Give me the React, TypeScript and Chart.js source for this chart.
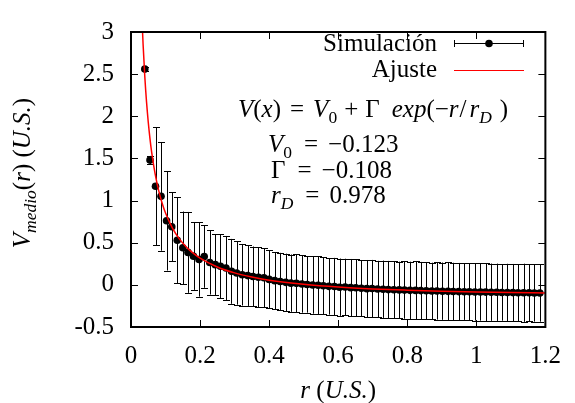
import React, { useEffect, useRef } from "react";
import { Chart, registerables } from "chart.js";
Chart.register(...registerables);

// ---- data ----
const rVals = [
  0.040, 0.055, 0.071, 0.087, 0.103, 0.118, 0.134, 0.150, 0.165, 0.181,
  0.197, 0.212, 0.228, 0.244, 0.259, 0.275, 0.291, 0.306, 0.322, 0.338,
  0.353, 0.369, 0.385, 0.400, 0.416, 0.432, 0.448, 0.463, 0.479, 0.495,
  0.510, 0.526, 0.542, 0.557, 0.573, 0.589, 0.604, 0.620, 0.636, 0.651,
  0.667, 0.683, 0.698, 0.714, 0.730, 0.745, 0.761, 0.777, 0.792, 0.808,
  0.824, 0.839, 0.855, 0.871, 0.886, 0.902, 0.918, 0.933, 0.949, 0.965,
  0.980, 0.996, 1.012, 1.027, 1.043, 1.059, 1.074, 1.090, 1.106, 1.121,
  1.137, 1.153, 1.168, 1.184,
];
const vVals = [
  2.56, 1.48, 1.17, 1.05, 0.76, 0.69, 0.53, 0.44, 0.385, 0.34,
  0.30, 0.335, 0.265, 0.24, 0.22, 0.20, 0.16, 0.14, 0.12, 0.11,
  0.10, 0.09, 0.085, 0.065, 0.05, 0.04, 0.03, 0.02, 0.018, 0.01,
  0.005, -0.002, -0.005, -0.01, -0.018, -0.02, -0.028, -0.025, -0.033, -0.035,
  -0.04, -0.045, -0.044, -0.05, -0.052, -0.056, -0.058, -0.06, -0.062, -0.065,
  -0.066, -0.068, -0.07, -0.072, -0.072, -0.075, -0.077, -0.078, -0.08, -0.081,
  -0.082, -0.084, -0.085, -0.086, -0.087, -0.088, -0.09, -0.09, -0.092, -0.093,
  -0.094, -0.094, -0.096, -0.097,
];
const errVals = [
  0.02, 0.05, 0.70, 0.645, 0.59, 0.41, 0.51, 0.43, 0.48, 0.40,
  0.44, 0.37, 0.38, 0.36, 0.38, 0.38, 0.385, 0.375, 0.365, 0.36,
  0.355, 0.355, 0.35, 0.345, 0.34, 0.34, 0.34, 0.34, 0.345, 0.34,
  0.335, 0.34, 0.345, 0.34, 0.335, 0.34, 0.34, 0.335, 0.34, 0.34,
  0.335, 0.34, 0.34, 0.335, 0.34, 0.34, 0.34, 0.335, 0.34, 0.34,
  0.345, 0.34, 0.34, 0.335, 0.34, 0.34, 0.345, 0.34, 0.34, 0.335,
  0.34, 0.34, 0.34, 0.345, 0.34, 0.34, 0.335, 0.34, 0.34, 0.34,
  0.345, 0.34, 0.34, 0.34,
];
const fitR = [
  0.032, 0.035, 0.04, 0.045, 0.05, 0.055, 0.06, 0.07, 0.08, 0.09,
  0.10, 0.12, 0.14, 0.16, 0.18, 0.20, 0.25, 0.30, 0.35, 0.40,
  0.50, 0.60, 0.70, 0.80, 0.90, 1.00, 1.10, 1.20,
];
const fitV = [
  3.143, 2.854, 2.469, 2.169, 1.929, 1.733, 1.570, 1.313, 1.121, 0.972,
  0.852, 0.673, 0.546, 0.450, 0.376, 0.317, 0.212, 0.142, 0.093, 0.056,
  0.007, -0.026, -0.048, -0.063, -0.075, -0.084, -0.091, -0.097,
];
const xTickVals = [0, 0.2, 0.4, 0.6, 0.8, 1.0, 1.2];
const yTickVals = [-0.5, 0, 0.5, 1, 1.5, 2, 2.5, 3];
const legendLabels = ["Simulación", "Ajuste"];
const paramV0 = "−0.123";
const paramGamma = "−0.108";
const paramRD = "0.978";

const FAMILY = "Liberation Serif";
const FONT = `"${FAMILY}", serif`;
const TFS = 25;

type Part = { t: string; it?: boolean; sub?: boolean; dx?: number };

function richWidth(ctx: CanvasRenderingContext2D, parts: Part[], size: number) {
  let w = 0;
  for (const p of parts) {
    const s = p.sub ? size * 0.7 : size;
    ctx.font = `${p.it ? "italic " : ""}${s}px ${FONT}`;
    w += ctx.measureText(p.t).width + (p.dx || 0);
  }
  return w;
}
function drawRich(ctx: CanvasRenderingContext2D, parts: Part[], x: number, y: number, size: number) {
  ctx.textAlign = "left";
  ctx.textBaseline = "alphabetic";
  let cx = x;
  for (const p of parts) {
    const s = p.sub ? size * 0.7 : size;
    ctx.font = `${p.it ? "italic " : ""}${s}px ${FONT}`;
    cx += p.dx || 0;
    ctx.fillText(p.t, cx, p.sub ? y + size * 0.22 : y);
    cx += ctx.measureText(p.t).width;
  }
}

const fmt = (v: number) => String(+Number(v).toFixed(2));

const overlay = {
  id: "overlay",
  beforeDatasetsDraw(chart: any) {
    const { ctx, chartArea: a, scales } = chart;
    const xs = scales.x, ys = scales.y;
    ctx.save();
    ctx.beginPath();
    ctx.rect(a.left, a.top, a.right - a.left, a.bottom - a.top);
    ctx.clip();
    ctx.strokeStyle = "#000";
    ctx.lineWidth = 1;
    for (let i = 0; i < rVals.length; i++) {
      const px = Math.round(xs.getPixelForValue(rVals[i])) + 0.5;
      const t = ys.getPixelForValue(vVals[i] + errVals[i]);
      const b = ys.getPixelForValue(vVals[i] - errVals[i]);
      ctx.beginPath();
      ctx.moveTo(px, t);
      ctx.lineTo(px, b);
      ctx.moveTo(px - 3.5, Math.round(t) + 0.5);
      ctx.lineTo(px + 3.5, Math.round(t) + 0.5);
      ctx.moveTo(px - 3.5, Math.round(b) + 0.5);
      ctx.lineTo(px + 3.5, Math.round(b) + 0.5);
      ctx.stroke();
    }
    ctx.restore();
  },
  afterDraw(chart: any) {
    const { ctx, chartArea: a, scales } = chart;
    const xs = scales.x, ys = scales.y;
    ctx.save();
    // inward ticks (mirrored)
    ctx.strokeStyle = "#000";
    ctx.lineWidth = 1;
    ctx.beginPath();
    for (const v of xTickVals) {
      const px = Math.round(xs.getPixelForValue(v)) + 0.5;
      ctx.moveTo(px, a.bottom);
      ctx.lineTo(px, a.bottom - 7);
      ctx.moveTo(px, a.top);
      ctx.lineTo(px, a.top + 7);
    }
    for (const v of yTickVals) {
      const py = Math.round(ys.getPixelForValue(v)) + 0.5;
      ctx.moveTo(a.left, py);
      ctx.lineTo(a.left + 7, py);
      ctx.moveTo(a.right, py);
      ctx.lineTo(a.right - 7, py);
    }
    ctx.stroke();
    // frame
    ctx.lineWidth = 2;
    ctx.strokeRect(a.left, a.top, a.right - a.left, a.bottom - a.top);

    // legend
    ctx.fillStyle = "#000";
    ctx.font = `${TFS}px ${FONT}`;
    ctx.textAlign = "right";
    ctx.textBaseline = "alphabetic";
    ctx.fillText(legendLabels[0], 437, 51);
    ctx.fillText(legendLabels[1], 437, 77);
    ctx.lineWidth = 1;
    ctx.strokeStyle = "#000";
    ctx.beginPath();
    ctx.moveTo(454, 43.5);
    ctx.lineTo(524, 43.5);
    ctx.moveTo(454.5, 40);
    ctx.lineTo(454.5, 47);
    ctx.moveTo(523.5, 40);
    ctx.lineTo(523.5, 47);
    ctx.stroke();
    ctx.beginPath();
    ctx.arc(489, 43.5, 3.8, 0, Math.PI * 2);
    ctx.fill();
    ctx.strokeStyle = "#ff0000";
    ctx.beginPath();
    ctx.moveTo(454, 70.5);
    ctx.lineTo(524, 70.5);
    ctx.stroke();

    // formula and parameters
    ctx.fillStyle = "#000";
    drawRich(ctx, [
      { t: "V", it: true }, { t: "(" }, { t: "x", it: true }, { t: ")" },
      { t: "=", dx: 9 }, { t: "V", it: true, dx: 9 }, { t: "0", sub: true },
      { t: "+", dx: 7 }, { t: "Γ", dx: 7 },
      { t: "exp", it: true, dx: 12 }, { t: "(−" }, { t: "r", it: true }, { t: "/", dx: 1 },
      { t: "r", it: true, dx: 3 }, { t: "D", it: true, sub: true }, { t: ")", dx: 8 },
    ], 238, 117, TFS);
    drawRich(ctx, [{ t: "V", it: true }, { t: "0", sub: true }, { t: "=", dx: 12 }, { t: paramV0, dx: 10 }], 268, 152, TFS);
    drawRich(ctx, [{ t: "Γ" }, { t: "=", dx: 12 }, { t: paramGamma, dx: 10 }], 271, 178, TFS);
    drawRich(ctx, [{ t: "r", it: true }, { t: "D", it: true, sub: true }, { t: "=", dx: 12 }, { t: paramRD, dx: 10 }], 271, 203, TFS);

    // axis titles
    const xt: Part[] = [{ t: "r", it: true }, { t: " (" }, { t: "U.S.", it: true }, { t: ")" }];
    const xw = richWidth(ctx, xt, TFS);
    drawRich(ctx, xt, (a.left + a.right) / 2 - xw / 2, 398, TFS);

    const yt: Part[] = [
      { t: "V", it: true }, { t: "medio", it: true, sub: true }, { t: "(" },
      { t: "r", it: true }, { t: ") (" }, { t: "U.S.", it: true }, { t: ")" },
    ];
    const yw = richWidth(ctx, yt, TFS);
    ctx.translate(30, 173);
    ctx.rotate(-Math.PI / 2);
    drawRich(ctx, yt, -yw / 2, 0, TFS);
    ctx.restore();
  },
};

export default function App() {
  const ref = useRef<HTMLCanvasElement>(null);
  useEffect(() => {
    if (!ref.current) return;
    const chart = new Chart(ref.current, {
      type: "scatter",
      data: {
        datasets: [
          {
            label: legendLabels[1],
            data: fitR.map((x, i) => ({ x, y: fitV[i] })),
            showLine: true,
            borderColor: "#ff0000",
            borderWidth: 1.5,
            pointRadius: 0,
            cubicInterpolationMode: "monotone",
          } as any,
          {
            label: legendLabels[0],
            data: rVals.map((x, i) => ({ x, y: vVals[i] })),
            backgroundColor: "#000",
            borderWidth: 0,
            pointRadius: 3.8,
          },
        ],
      },
      options: {
        responsive: false,
        animation: false,
        layout: { padding: { top: 23, right: 20, left: 0, bottom: 0 } },
        plugins: { legend: { display: false }, tooltip: { enabled: false } },
        scales: {
          x: {
            type: "linear",
            min: 0,
            max: 1.2,
            afterFit: (s: any) => { s.height = 76; },
            afterBuildTicks: (s: any) => { s.ticks = xTickVals.map((v) => ({ value: v })); },
            grid: { display: false, drawTicks: false },
            border: { display: false },
            ticks: { padding: 14, color: "#000", font: { family: FAMILY, size: TFS }, maxRotation: 0, autoSkip: false, callback: (v: any) => fmt(v) },
          },
          y: {
            type: "linear",
            min: -0.5,
            max: 3,
            afterFit: (s: any) => { s.width = 131; },
            afterBuildTicks: (s: any) => { s.ticks = yTickVals.map((v) => ({ value: v })); },
            grid: { display: false, drawTicks: false },
            border: { display: false },
            ticks: { padding: 17, color: "#000", font: { family: FAMILY, size: TFS }, autoSkip: false, callback: (v: any) => fmt(v) },
          },
        },
      },
      plugins: [overlay],
    });
    return () => chart.destroy();
  }, []);
  return (
    <div style={{ position: "fixed", left: 0, top: 0, width: 575, height: 403, background: "#fff" }}>
      <canvas ref={ref} width={575} height={403} />
    </div>
  );
}
